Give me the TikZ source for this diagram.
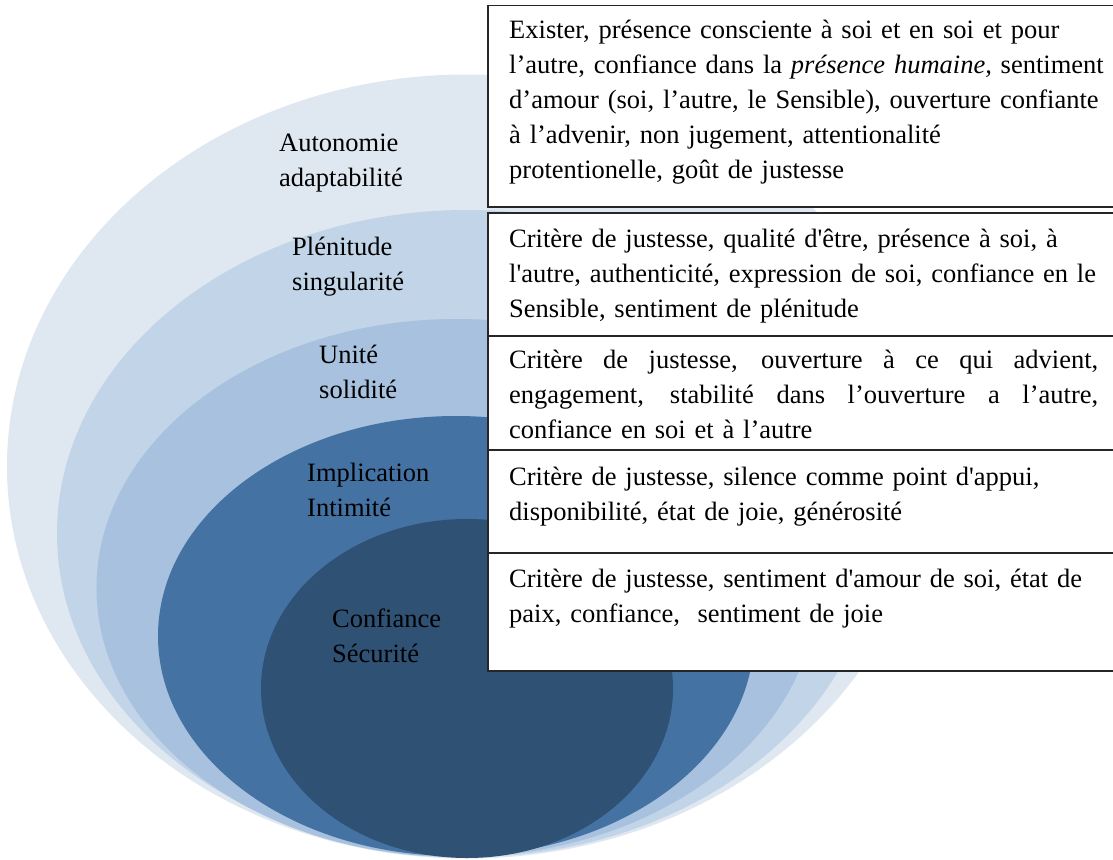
\documentclass[tikz,border=0pt]{standalone}
\usepackage{fontspec}
\setmainfont{Liberation Serif}[Ligatures=TeXOff]

\definecolor{ringone}{HTML}{DFE7F1}
\definecolor{ringtwo}{HTML}{C2D4E8}
\definecolor{ringthree}{HTML}{A7C1DE}
\definecolor{ringfour}{HTML}{4472A3}
\definecolor{ringfive}{HTML}{2F5174}

\newcommand{\jline}[1]{\makebox[589pt][s]{\spaceskip=0.3333em plus 1fil\relax #1}}

\begin{document}
\begin{tikzpicture}[x=1pt,y=-1pt,
        critbox/.style={draw=black!85,line width=1.5pt,fill=white,anchor=north west,
            minimum width=700pt,inner sep=0pt},
        crittext/.style={anchor=north west,inner sep=0pt,text width=640pt,align=left,
            font=\fontsize{26.5}{35}\selectfont},
        ringlabel/.style={anchor=north west,inner sep=0pt,align=left,
            font=\fontsize{26.5}{35}\selectfont}]
        \useasboundingbox (0,0) rectangle (1113,859);
        \clip (0,0) rectangle (1113,859);
        \fill[white] (0,0) rectangle (1113,859);

        \fill[ringone] (467,466.5) ellipse (460 and 392);
        \fill[ringtwo] (467,533.5) ellipse (410 and 323.5);
        \fill[ringthree] (456.5,588) ellipse (360 and 269);
        \fill[ringfour] (456,636) ellipse (298 and 220);
        \fill[ringfive] (467,688.5) ellipse (206 and 169.5);

        \node[ringlabel] (autonomie) at (279,126.5) {\strut Autonomie\\adaptabilité};
        \node[ringlabel] (plenitude) at (292,230.5) {\strut Plénitude\\singularité};
        \node[ringlabel] (unite) at (319,338.5) {\strut Unité\\solidité};
        \node[ringlabel] (implication) at (307,456.5) {\strut Implication\\Intimité};
        \node[ringlabel] (confiance) at (332,602.5) {\strut Confiance\\Sécurité};

        \node[critbox,minimum height=201pt] (box1) at (487,5) {};
        \node[critbox,minimum height=123pt] (box2) at (487,212) {};
        \node[critbox,minimum height=114pt] (box3) at (487,335) {};
        \node[critbox,minimum height=103pt] (box4) at (487,449) {};
        \node[critbox,minimum height=118pt] (box5) at (487,552) {};

        \node[crittext] (text1) at (509,13.5) {\strut Exister, présence consciente à soi et en soi et pour\\
            l’autre, confiance dans la \textit{présence humaine,} sentiment\\
            d’amour (soi, l’autre, le Sensible), ouverture confiante\\
            à l’advenir, non jugement, attentionalité\\
            protentionelle, goût de justesse};
        \node[crittext] (text2) at (509,222.5) {\strut Critère de justesse, qualité d'être, présence à soi, à\\
            l'autre, authenticité, expression de soi, confiance en le\\
            Sensible, sentiment de plénitude};
        \node[crittext] (text3) at (509,343.5) {\strut\jline{Critère de justesse, ouverture à ce qui advient,}\\
            \jline{engagement, stabilité dans l’ouverture a l’autre,}\\
            confiance en soi et à l’autre};
        \node[crittext] (text4) at (509,460.5) {\strut Critère de justesse, silence comme point d'appui,\\
            disponibilité, état de joie, générosité};
        \node[crittext] (text5) at (509,563) {\strut Critère de justesse, sentiment d'amour de soi, état de\\
            paix, confiance, \ sentiment de joie};
\end{tikzpicture}
\end{document}
